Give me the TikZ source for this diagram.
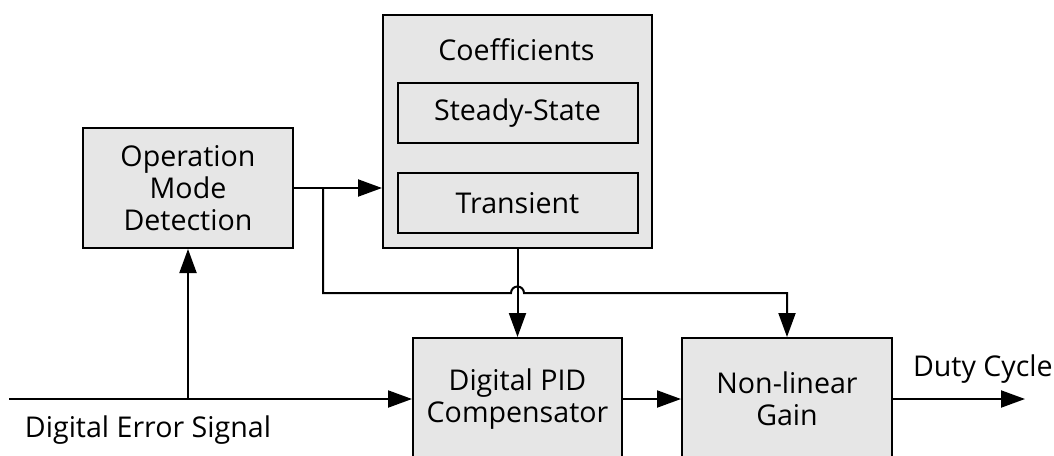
\documentclass[tikz,border=0pt]{standalone}
\usepackage{fontspec}
\setmainfont{Open Sans}
\usepackage{tikz}
\usetikzlibrary{shapes,arrows.meta,calc}
\definecolor{boxgray}{HTML}{E6E6E6}
\tikzstyle{line} = [draw, -{Triangle[length=12pt,width=8.5pt]}]
\tikzstyle{block} = [draw, fill=boxgray, rectangle, text centered, align=center, inner sep=0pt, minimum height=60pt]
\tikzstyle{sub} = [draw, rectangle, text centered, inner sep=0pt, minimum width=120pt, minimum height=30pt]
\tikzstyle{tag} = [inner sep=0pt]

\begin{document}
\begin{tikzpicture}[x=0.5pt, y=-0.5pt, line width=1pt, font=\fontsize{14.3}{16}\selectfont]
        \clip (0,0) rectangle (1054,455);
        \node[block, minimum width=105pt] (mode) at (188,188) {Operation\\Mode\\Detection};
        \node[block, minimum width=134.5pt, minimum height=116.5pt] (coef) at (517.5,131.5) {};
        \node[tag, anchor=base] (coeftitle) at (516.5,60) {Coefficients};
        \node[sub] (steady) at (517.5,113) {Steady-State};
        \node[sub] (trans) at (517.5,203) {Transient};
        \node[block, minimum width=104.5pt, minimum height=61pt] (pid) at (517.5,399) {Digital PID\\Compensator};
        \node[block, minimum width=105pt, minimum height=61pt] (gain) at (787,399) {Non-linear\\Gain};
        \node[tag, anchor=base west] (errlabel) at (24,437) {Digital Error Signal};
        \node[tag, anchor=base west] (dutylabel) at (912,376) {Duty Cycle};
        \coordinate (in) at (9,399);
        \coordinate (out) at (1025,399);
        \coordinate (tap) at (323,188);
        \coordinate (bus) at (323,293);
        \path[line] (mode.east) -- (mode.east -| coef.west);
        \path[line] (coef.south) -- (pid.north);
        \path[line] (in) -- (pid.west);
        \path[line] (mode.south |- in) -- (mode.south);
        \path[line] (pid.east) -- (gain.west);
        \path[line] (gain.east) -- (out);
        \path[line] (tap) -- (bus) -- ($(pid.north |- bus)+(-6.5,0)$)
            arc[start angle=180, end angle=360, radius=6.5] -| (gain.north);
    \end{tikzpicture}
\end{document}
